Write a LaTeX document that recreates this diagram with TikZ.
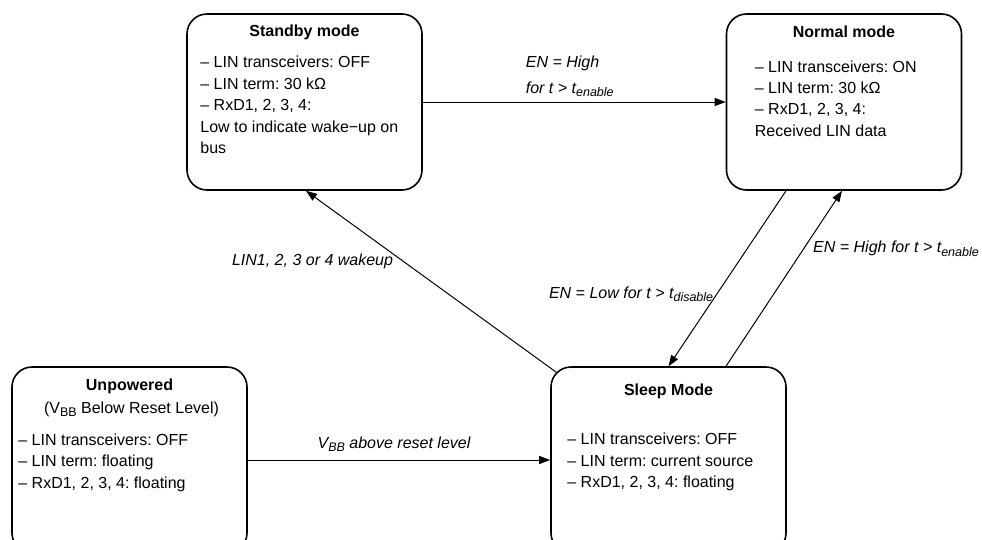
\documentclass[tikz,border=0pt]{standalone}
\usepackage{fontspec}
\setmainfont{Liberation Sans}
\usetikzlibrary{arrows.meta}
\newcommand{\indice}[1]{\raisebox{-0.4ex}{\fontsize{12.5}{13}\selectfont #1}}

\begin{document}
\frenchspacing
\fontsize{16}{21.5}\selectfont
\begin{tikzpicture}[x=1pt,y=-1pt,
    mode/.style={draw, line width=1.6pt, rounded corners=20pt, minimum width=235pt, minimum height=176pt, inner sep=0pt},
    titre/.style={font=\bfseries, inner sep=0pt},
    liste/.style={align=left, anchor=north west, inner sep=0pt},
    fleche/.style={line width=1pt, -{Triangle[length=11pt,width=8pt]}},
    etiq/.style={font=\itshape, inner sep=0pt}]
    \useasboundingbox (0,0) rectangle (982,539);
    % états
    \node[mode] (standby) at (304.5,102) {};
    \node[mode] (normal) at (844,102) {};
    \node[mode, minimum height=186pt] (unpowered) at (129.5,460) {};
    \node[mode, minimum height=186pt] (sleep) at (668.5,460) {};
    % textes
    \node[titre] at ([yshift=-19pt]standby.north) {Standby mode};
    \node[liste] at ([xshift=14pt,yshift=-43pt]standby.north west) {– LIN transceivers: OFF\\– LIN term: 30 kΩ\\– RxD1, 2, 3, 4:\\Low to indicate wake−up on\\bus};
    \node[titre] at ([yshift=-19pt]normal.north) {Normal mode};
    \node[liste] at ([xshift=29pt,yshift=-47pt]normal.north west) {– LIN transceivers: ON\\– LIN term: 30 kΩ\\– RxD1, 2, 3, 4:\\Received LIN data};
    \node[titre] at ([yshift=-20pt]unpowered.north) {Unpowered};
    \node[inner sep=0pt] at ([xshift=2pt,yshift=-43pt]unpowered.north) {(V\indice{BB} Below Reset Level)};
    \node[liste] at ([xshift=7pt,yshift=-67pt]unpowered.north west) {– LIN transceivers: OFF\\– LIN term: floating\\– RxD1, 2, 3, 4: floating};
    \node[titre] at ([yshift=-25pt]sleep.north) {Sleep Mode};
    \node[liste] at ([xshift=17pt,yshift=-66.5pt]sleep.north west) {– LIN transceivers: OFF\\– LIN term: current source\\– RxD1, 2, 3, 4: floating};
    % transitions
    \draw[fleche] (standby.east) -- (normal.west) node[etiq, midway, above=5pt, xshift=-4.5pt, align=left] {EN = High\\[4pt]for t > t\indice{enable}};
    \draw[fleche] ([xshift=5.9pt,yshift=-5.9pt]sleep.north west) -- ([xshift=1.5pt]standby.south) node[etiq, pos=0.61, left=10pt] {LIN1, 2, 3 or 4 wakeup};
    \draw[fleche] ([xshift=-58pt]normal.south) -- (sleep.north) node[etiq, pos=0.59, left=3pt] {EN = Low for t > t\indice{disable}};
    \draw[fleche] ([xshift=57.5pt]sleep.north) -- ([xshift=-2pt]normal.south) node[etiq, pos=0.67, right=9pt] {EN = High for t > t\indice{enable}};
    \draw[fleche] (unpowered.east) -- (sleep.west) node[etiq, midway, above=8pt, xshift=-5pt] {V\indice{BB} above reset level};
\end{tikzpicture}
\end{document}
